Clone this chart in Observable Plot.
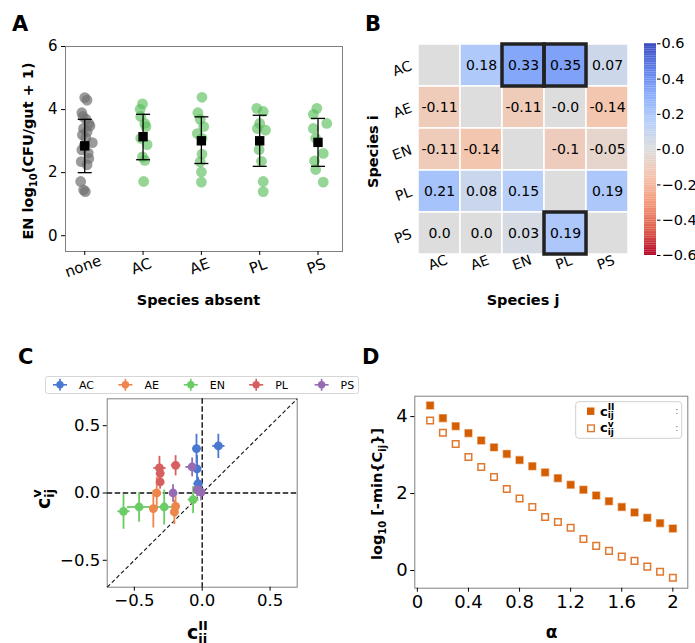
<!DOCTYPE html>
<html><head><meta charset="utf-8">
<script src="https://cdn.jsdelivr.net/npm/d3@7"></script>
<script src="https://cdn.jsdelivr.net/npm/@observablehq/plot@0.6"></script>
<style>
body{margin:0;background:#fff;overflow:hidden;font-family:"DejaVu Sans",sans-serif;}
#page{position:relative;width:695px;height:643px;overflow:hidden;background:#fff;}
.panel{position:absolute;}
.panel svg{overflow:visible;display:block;}
#overlay{position:absolute;left:0;top:0;z-index:5;pointer-events:none;}
</style></head><body><div id="page"></div>
<script>
// ---------- Panel A data ----------
const groupsA = ["none","AC","AE","PL","PS"];
const noneY  = [4.38,4.30,3.90,3.78,3.70,3.56,3.48,3.40,3.30,3.20,3.10,2.95,2.85,2.72,2.62,2.45,2.35,2.25,1.72,1.45,1.40];
const noneDx = [0,0.04,-0.05,-0.03,0.02,0.07,0.09,-0.02,0.04,-0.04,0.02,0.13,-0.01,-0.05,0.06,0.07,-0.06,0.04,-0.07,-0.02,0.01];
const acY  = [4.18,4.01,3.78,3.56,3.46,3.09,2.89,2.50,2.39,1.72];
const acDx = [-0.01,-0.05,-0.04,0.03,0.05,-0.04,0.07,-0.01,0.03,0.01];
const aeY  = [4.39,3.90,3.69,3.46,3.24,3.09,2.59,2.34,2.02,1.70];
const aeDx = [0.01,-0.06,-0.02,0.04,-0.07,0.01,0.01,-0.02,0,0];
const plY  = [4.04,3.94,3.56,3.40,3.35,2.73,2.36,1.72,1.40];
const plDx = [-0.05,0.06,0,-0.04,0.10,-0.01,0.03,0.06,0.06];
const psY  = [4.04,3.85,3.56,3.40,3.09,2.61,2.37,2.10,1.70];
const psDx = [-0.02,-0.08,0.15,-0.08,-0.04,0.09,-0.06,-0.04,0.09];
const meanA  = [2.85,3.14,3.01,3.01,2.96];
const errLoA = [2.00,2.41,2.29,2.20,2.20];
const errHiA = [3.69,3.85,3.77,3.82,3.72];

// ---------- Panel B data ----------
const speciesB = ["AC","AE","EN","PL","PS"];
const rowAC = [null, 0.18, 0.33, 0.35, 0.07];
const rowAE = [-0.11, null, -0.11, -0, -0.14];
const rowEN = [-0.11, -0.14, null, -0.1, -0.05];
const rowPL = [0.21, 0.08, 0.15, null, 0.19];
const rowPS = [0.0, 0.0, 0.03, 0.19, null];
const highlightB = [["AC","EN"],["AC","PL"],["PS","PL"]];
const cbTicks = [-0.6,-0.4,-0.2,0,0.2,0.4,0.6];
const coolwarmR = ["#b40426","#de604d","#f49a7b","#f5c4ad","#dddddd","#b8d0f9","#8db0fe","#6282ea","#3b4cc0"];

// ---------- Panel C data ----------
const speciesC = ["AC","AE","EN","PL","PS"];
const colorsC  = ["#4878d0","#ee854a","#6acc64","#d65f5f","#956cb4"];
const cParAC = [-0.042, 0.119, -0.038, -0.030], cPerpAC = [0.33, 0.35, 0.18, 0.07];
const xErrAC = [0.03, 0.045, 0.02, 0.035],      yErrAC = [0.11, 0.09, 0.10, 0.05];
const cParAE = [-0.335, -0.36, -0.196, -0.205], cPerpAE = [0.0, -0.116, -0.099, -0.141];
const xErrAE = [0.03, 0.03, 0.03, 0.03],        yErrAE = [0.12, 0.14, 0.075, 0.09];
const cParEN = [-0.58, -0.465, -0.28, -0.067],  cPerpEN = [-0.136, -0.104, -0.104, -0.049];
const xErrEN = [0.045, 0.09, 0.08, 0.04],       yErrEN = [0.13, 0.11, 0.13, 0.10];
const cParPL = [-0.315, -0.31, -0.31, -0.196],  cPerpPL = [0.186, 0.146, 0.082, 0.206];
const xErrPL = [0.045, 0.03, 0.03, 0.035],      yErrPL = [0.09, 0.07, 0.05, 0.075];
const cParPS = [-0.074, -0.215, -0.037, -0.008], cPerpPS = [0.194, 0.0, 0.025, 0.006];
const xErrPS = [0.05, 0.03, 0.02, 0.02],        yErrPS = [0.07, 0.065, 0.05, 0.06];

// ---------- Panel D data ----------
const alphaD = [0.1,0.2,0.3,0.4,0.5,0.6,0.7,0.8,0.9,1.0,1.1,1.2,1.3,1.4,1.5,1.6,1.7,1.8,1.9,2.0];
const cParD  = [4.29,3.96,3.75,3.57,3.38,3.20,3.03,2.87,2.71,2.55,2.40,2.23,2.10,1.95,1.80,1.65,1.51,1.37,1.23,1.09];
const cPerpD = [3.90,3.58,3.29,2.95,2.69,2.43,2.12,1.87,1.65,1.39,1.26,1.11,0.82,0.64,0.51,0.36,0.25,0.10,-0.03,-0.19];

const FONT = "DejaVu Sans";
const page = document.getElementById("page");
function place(el, left, top){ const d=document.createElement("div"); d.className="panel"; d.style.left=left+"px"; d.style.top=top+"px"; d.appendChild(el); page.appendChild(d); }
const baseStyle = fs => ({fontFamily: FONT, fontSize: fs+"px", background:"transparent", color:"#000", overflow:"visible"});

// ---------- Panel A ----------
const ptsA = [];
[[noneY,noneDx],[acY,acDx],[aeY,aeDx],[plY,plDx],[psY,psDx]].forEach(([ys,dxs],g)=>ys.forEach((y,k)=>ptsA.push({g, x:g+dxs[k], y})));
const statsA = groupsA.map((n,i)=>({i, m:meanA[i], lo:errLoA[i], hi:errHiA[i]}));
const plotA = Plot.plot({
  width:350, height:320, marginLeft:65, marginRight:8, marginTop:46, marginBottom:69,
  style: baseStyle(15),
  x:{domain:[-0.33,4.42]}, y:{domain:[-0.5,6]},
  marks:[
    Plot.frame({stroke:"#808080"}),
    Plot.axisX({ticks:[0,1,2,3,4], tickFormat:()=>"", tickSize:4, label:null}),
    Plot.text(groupsA, {x:(d,i)=>i, text:d=>d, frameAnchor:"bottom", dy:19.5, rotate:-20, fontSize:15, fill:"#000"}),
    Plot.axisY({ticks:[0,2,4,6], tickFormat:d=>String(d), tickSize:4, tickPadding:4, label:null, fontSize:15}),
    Plot.dot(ptsA.filter(d=>d.g===0), {x:"x", y:"y", r:5.4, fill:"#707070", fillOpacity:0.7, stroke:null}),
    Plot.dot(ptsA.filter(d=>d.g>0), {x:"x", y:"y", r:5.4, fill:"#5cbf5c", fillOpacity:0.65, stroke:null}),
    Plot.ruleX(statsA, {x:"i", y1:"lo", y2:"hi", stroke:"#000", strokeWidth:1.3}),
    Plot.link(statsA, {x1:d=>d.i-0.12, x2:d=>d.i+0.12, y1:"lo", y2:"lo", stroke:"#000", strokeWidth:1.3}),
    Plot.link(statsA, {x1:d=>d.i-0.12, x2:d=>d.i+0.12, y1:"hi", y2:"hi", stroke:"#000", strokeWidth:1.3}),
    Plot.dot(statsA, {x:"i", y:"m", symbol:"square", r:5.3, fill:"#000", stroke:null})
  ]
});
place(plotA, 0, 0);

// ---------- Panel B ----------
const rowsB = [rowAC,rowAE,rowEN,rowPL,rowPS];
const cellsB = [];
rowsB.forEach((row,i)=>row.forEach((v,j)=>cellsB.push({i:speciesB[i], j:speciesB[j], v})));
const fmtB = v => (Object.is(v,-0)?"-":"") + (Number.isInteger(v) ? v.toFixed(1) : String(v));
const colorB = {type:"linear", domain:[-0.6,-0.45,-0.3,-0.15,0,0.15,0.3,0.45,0.6], range:coolwarmR, interpolate:"rgb"};
const plotB = Plot.plot({
  width:345, height:320, marginLeft:66.7, marginRight:66.7, marginTop:43.3, marginBottom:65,
  style: baseStyle(14),
  x:{domain:speciesB, padding:0, axis:null}, y:{domain:speciesB, padding:0}, color:colorB,
  marks:[
    Plot.cell(cellsB, {x:"j", y:"i", fill:d=>d.v===null?0:d.v, stroke:"white", strokeWidth:1.5}),
    Plot.text(cellsB.filter(d=>d.v!==null), {x:"j", y:"i", text:d=>fmtB(d.v), fontSize:14, fill:"#000"}),
    Plot.cell(highlightB, {x:d=>d[1], y:d=>d[0], fill:"none", stroke:"#222", strokeWidth:3.5}),
    Plot.text(speciesB, {x:d=>d, text:d=>d, frameAnchor:"bottom", dy:11.5, rotate:-20, fontSize:14, fill:"#000"}),
    Plot.axisY({tickSize:0, tickPadding:6, tickRotate:-20, fontSize:14, label:null})
  ]
});
place(plotB, 350, 0);

// colorbar
const cbSteps = d3.range(-0.6, 0.6, 0.01);
const plotCB = Plot.plot({
  width:65, height:320, marginLeft:14, marginRight:39, marginTop:43.3, marginBottom:65,
  style: baseStyle(14.5),
  x:{domain:[0,1], axis:null}, y:{domain:[-0.6,0.6]}, color:colorB,
  marks:[
    Plot.rect(cbSteps, {x1:0, x2:1, y1:d=>d, y2:d=>d+0.0105, fill:d=>d+0.005}),
    Plot.axisY({anchor:"right", ticks:cbTicks, tickFormat:d3.format(".1f"), tickSize:3.5, tickPadding:1.5, fontSize:14.5, label:null})
  ]
});
place(plotCB, 630, 0);

// ---------- Panel C ----------
const cSets = [[cParAC,cPerpAC,xErrAC,yErrAC],[cParAE,cPerpAE,xErrAE,yErrAE],[cParEN,cPerpEN,xErrEN,yErrEN],[cParPL,cPerpPL,xErrPL,yErrPL],[cParPS,cPerpPS,xErrPS,yErrPS]];
const ptsC = [];
cSets.forEach(([xs,ys,xe,ye],k)=>xs.forEach((x,n)=>ptsC.push({s:speciesC[k], x, y:ys[n], xe:xe[n], ye:ye[n]})));
const plotC = Plot.plot({
  width:350, height:313, marginLeft:106.7, marginRight:53.3, marginTop:68.3, marginBottom:56.3,
  style: baseStyle(16.5),
  x:{domain:[-0.7,0.7]}, y:{domain:[-0.7,0.7]}, color:{domain:speciesC, range:colorsC},
  marks:[
    Plot.frame({stroke:"#808080"}),
    Plot.ruleY([0], {stroke:"#111", strokeWidth:1.4, strokeDasharray:"5.5,2.5"}),
    Plot.ruleX([0], {stroke:"#111", strokeWidth:1.4, strokeDasharray:"5.5,2.5"}),
    Plot.link([{a:-0.7,b:0.7}], {x1:"a", y1:"a", x2:"b", y2:"b", stroke:"#111", strokeWidth:1.1, strokeDasharray:"4,2.5"}),
    Plot.link(ptsC, {x1:d=>d.x-d.xe, x2:d=>d.x+d.xe, y1:"y", y2:"y", stroke:"s", strokeWidth:1.8}),
    Plot.link(ptsC, {x1:"x", x2:"x", y1:d=>d.y-d.ye, y2:d=>d.y+d.ye, stroke:"s", strokeWidth:1.8}),
    Plot.dot(ptsC, {x:"x", y:"y", r:4.4, fill:"s", stroke:null}),
    Plot.axisX({ticks:[-0.5,0,0.5], tickFormat:d3.format(".1f"), tickSize:4, tickPadding:3, fontSize:16.5, label:null}),
    Plot.axisY({ticks:[-0.5,0,0.5], tickFormat:d3.format(".1f"), tickSize:4, tickPadding:3, fontSize:16.5, label:null})
  ]
});
place(plotC, 0, 330);

// ---------- Panel D ----------
const ptsD = alphaD.map((a,i)=>({a, par:cParD[i], perp:cPerpD[i]}));
const plotD = Plot.plot({
  width:345, height:313, marginLeft:64.3, marginRight:7.7, marginTop:65.7, marginBottom:55.3,
  style: baseStyle(18),
  x:{domain:[-0.02,2.117]}, y:{domain:[-0.46,4.53]},
  marks:[
    Plot.frame({stroke:"#808080"}),
    Plot.dot(ptsD, {x:"a", y:"par", symbol:"square", r:4.0, fill:"#d55e00", stroke:"#d55e00", strokeOpacity:0.45, strokeWidth:1.4}),
    Plot.dot(ptsD, {x:"a", y:"perp", symbol:"square", r:3.7, fill:"white", stroke:"#e0782e", strokeWidth:1.5}),
    Plot.axisX({ticks:[0,0.4,0.8,1.2,1.6,2], tickFormat:d=>String(d), tickSize:4, tickPadding:3, fontSize:18, label:null}),
    Plot.axisY({ticks:[0,2,4], tickFormat:d=>String(d), tickSize:4, tickPadding:3, fontSize:18, label:null})
  ]
});
place(plotD, 350, 330);

// ---------- Overlay: panel letters, axis titles, legends ----------
const NS = "http://www.w3.org/2000/svg";
const ov = document.createElementNS(NS, "svg");
ov.setAttribute("id","overlay"); ov.setAttribute("width",695); ov.setAttribute("height",643);
let html = `<g font-family="${FONT}" fill="#000">
<g font-weight="bold" font-size="21">
 <text x="12" y="30.5">A</text><text x="365" y="30.5">B</text>
 <text x="18" y="363.5">C</text><text x="362" y="363.5">D</text>
</g>
<g font-weight="bold" font-size="14.5">
 <text transform="translate(33,151) rotate(-90)" text-anchor="middle">EN log<tspan font-size="10" dy="3.5">10</tspan><tspan dy="-3.5">(CFU/gut + 1)</tspan></text>
 <text x="198.5" y="305" text-anchor="middle">Species absent</text>
 <text transform="translate(378,151.6) rotate(-90)" text-anchor="middle">Species i</text>
 <text x="523" y="305" text-anchor="middle">Species j</text>
 <text transform="translate(382,494) rotate(-90)" text-anchor="middle">log<tspan font-size="10" dy="3.5">10</tspan><tspan dy="-3.5"> [-min{C</tspan><tspan font-size="10" dy="3.5">ij</tspan><tspan dy="-3.5">}]</tspan></text>
 <text x="551.7" y="638" text-anchor="middle" font-size="17">α</text>
</g>
<g font-weight="bold">
 <text transform="translate(50,509) rotate(-90)" font-size="19">c<tspan font-size="13" dy="4">ij</tspan><tspan font-size="13" dx="-8.9" dy="-13">v</tspan></text>
 <text x="187" y="639" font-size="19">c<tspan font-size="13" dy="4">ij</tspan><tspan font-size="13" dx="-8.9" dy="-13">II</tspan></text>
</g>
<rect x="45.5" y="376.5" width="313" height="17" fill="white" stroke="#d6d6d6" rx="2"/>`;
speciesC.forEach((s,k)=>{
  const cx = 60 + k*65.4, cy = 384.8, c = colorsC[k];
  html += `<line x1="${cx-7}" x2="${cx+7}" y1="${cy}" y2="${cy}" stroke="${c}" stroke-width="1.6"/>
  <line x1="${cx}" x2="${cx}" y1="${cy-6}" y2="${cy+6}" stroke="${c}" stroke-width="1.6"/>
  <circle cx="${cx}" cy="${cy}" r="3.7" fill="${c}"/>
  <text x="${cx+19}" y="${cy+4}" font-size="11">${s}</text>`;
});
html += `<rect x="575.7" y="401.7" width="106" height="36.6" rx="3" fill="white" stroke="#d0d0d0"/>
<rect x="587" y="407.5" width="7.4" height="7.4" fill="#d55e00"/>
<rect x="587.7" y="425" width="6.6" height="6.6" fill="white" stroke="#e0782e" stroke-width="1.4"/>
<g font-weight="bold">
 <text x="600" y="415.5" font-size="13">c<tspan font-size="9" dy="2.8">ij</tspan><tspan font-size="9" dx="-6.2" dy="-8.5">II</tspan></text>
 <text x="600" y="432.3" font-size="13">c<tspan font-size="9" dy="2.8">ij</tspan><tspan font-size="9" dx="-6.2" dy="-8.5">v</tspan></text>
</g>
<text x="675.5" y="414" font-size="8" fill="#555">:</text>
<text x="675.5" y="431" font-size="8" fill="#555">:</text>
</g>`;
ov.innerHTML = html;
page.appendChild(ov);
</script></body></html>
